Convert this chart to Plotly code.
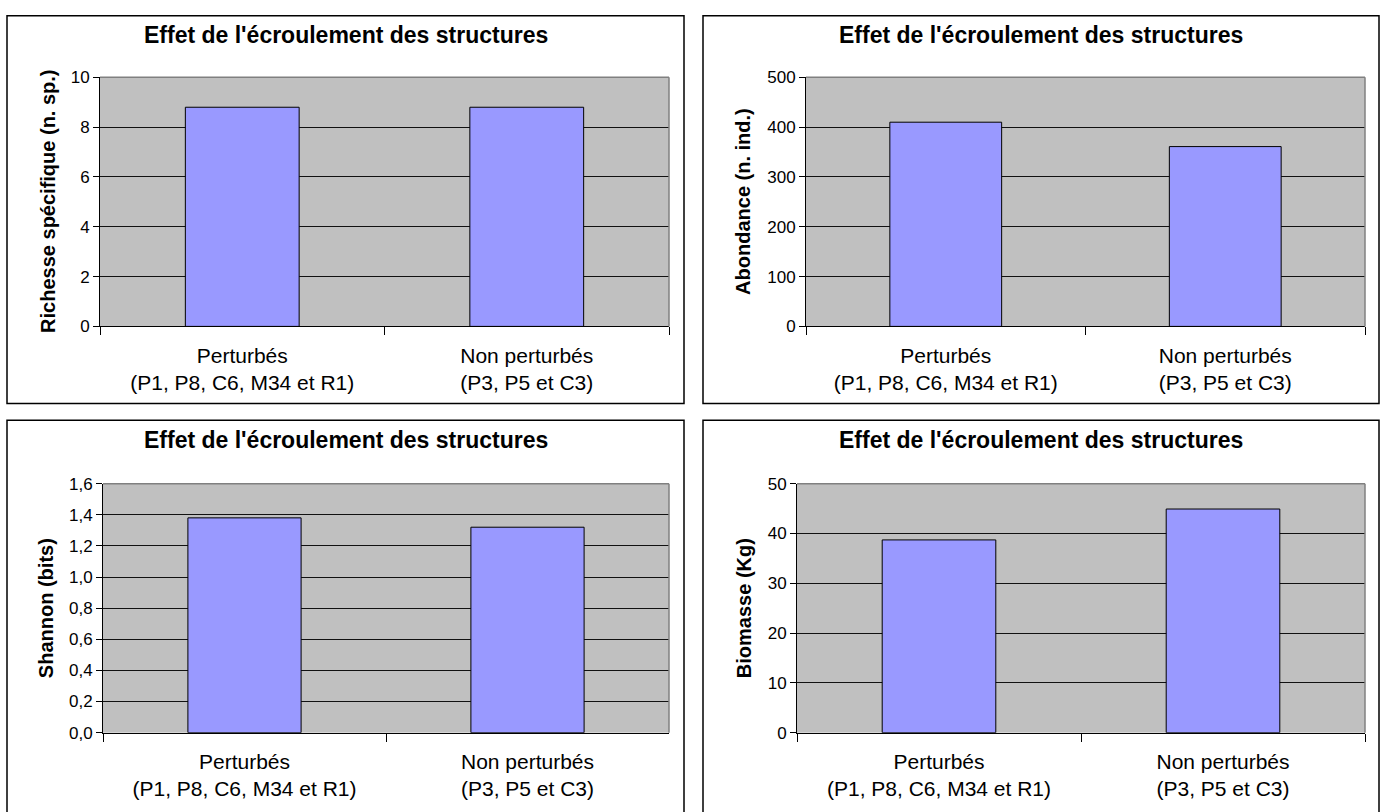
import plotly.graph_objects as go
from plotly.subplots import make_subplots

W, H = 1386, 812

# ---- data -----------------------------------------------------------------
categories = ["Perturbés<br>(P1, P8, C6, M34 et R1)", "Non perturbés<br>(P3, P5 et C3)"]

richesse = [8.8, 8.8]
abondance = [410, 361]
shannon = [1.38, 1.32]
biomasse = [38.7, 44.9]

chart_title = "Effet de l'écroulement des structures"
y_titles = ["Richesse spécifique (n. sp.)", "Abondance (n. ind.)", "Shannon (bits)", "Biomasse (Kg)"]
y_max = [10, 500, 1.6, 50]
y_step = [2, 100, 0.2, 10]
y_format = ["d", "d", ".1f", "d"]

series = [richesse, abondance, shannon, biomasse]

# ---- layout (pixel boxes) --------------------------------------------------
# frame: x0, y0, x1, y1 ; plot: x0, y0, x1, y1 ; y-title x ; title y
panels = [
    dict(frame=(7, 7, 684, 404), plot=(100, 70, 669, 325), ytx=48, ty=27),
    dict(frame=(703, 7, 1379, 404), plot=(806, 70, 1365, 325), ytx=743, ty=27),
    dict(frame=(7, 421, 684, 840), plot=(103, 486, 669, 741), ytx=46, ty=441),
    dict(frame=(703, 421, 1379, 840), plot=(797, 486, 1365, 741), ytx=744, ty=441),
]


def fx(px):
    return px / W


def fy(py):
    return 1 - py / H


FONT = "Arial, 'Liberation Sans', sans-serif"
BAR_COLOR = "#9999FF"
PLOT_BG = "#C0C0C0"

fig = make_subplots(rows=2, cols=2)

shapes = []
annotations = []

for i, (vals, p) in enumerate(zip(series, panels)):
    row, col = i // 2 + 1, i % 2 + 1
    fig.add_trace(
        go.Bar(
            x=categories,
            y=vals,
            marker=dict(color=BAR_COLOR, line=dict(color="black", width=1)),
            showlegend=False,
            hoverinfo="skip",
        ),
        row=row,
        col=col,
    )
    n = "" if i == 0 else str(i + 1)
    px0, py0, px1, py1 = p["plot"]
    fig.layout["xaxis" + n].update(
        domain=[fx(px0), fx(px1)],
        type="category",
        range=[-0.5, 1.5],
        tickson="boundaries",
        ticks="outside",
        ticklen=8,
        tickcolor="black",
        tickwidth=1,
        showline=True,
        linecolor="black",
        linewidth=1,
        showgrid=False,
        zeroline=False,
        ticklabelstandoff=10,
        tickfont=dict(family=FONT, size=21, color="black"),
        fixedrange=True,
    )
    fig.layout["yaxis" + n].update(
        domain=[fy(py1), fy(py0)],
        range=[0, y_max[i]],
        dtick=y_step[i],
        tick0=0,
        tickformat=y_format[i],
        ticks="outside",
        ticklen=6,
        tickcolor="black",
        tickwidth=1,
        showline=True,
        linecolor="black",
        linewidth=1,
        showgrid=True,
        gridcolor="#111111",
        gridwidth=1.2,
        zeroline=False,
        tickfont=dict(family=FONT, size=17, color="black"),
        fixedrange=True,
    )

    # grey top and right edges of the plot area
    xd, yd = "x" + n + " domain", "y" + n + " domain"
    shapes.append(dict(type="line", xref=xd, yref=yd, x0=0, x1=1, y0=1, y1=1,
                       line=dict(color="#808080", width=1.5), layer="above"))
    shapes.append(dict(type="line", xref=xd, yref=yd, x0=1, x1=1, y0=0, y1=1,
                       line=dict(color="#808080", width=1.5), layer="above"))

    # panel frame
    fx0, fy0, fx1, fy1 = p["frame"]
    shapes.append(dict(type="rect", xref="paper", yref="paper",
                       x0=fx(fx0), x1=fx(fx1), y0=fy(fy1), y1=fy(fy0),
                       line=dict(color="black", width=1.5), fillcolor="rgba(0,0,0,0)",
                       layer="below"))

    # panel title
    annotations.append(dict(
        text="<b>" + chart_title + "</b>", xref="paper", yref="paper",
        x=fx((fx0 + fx1) / 2), y=fy(p["ty"]), xanchor="center", yanchor="middle",
        showarrow=False, font=dict(family=FONT, size=23, color="black"),
    ))
    # y-axis title
    annotations.append(dict(
        text="<b>" + y_titles[i] + "</b>", xref="paper", yref="paper",
        x=fx(p["ytx"]), y=fy((py0 + py1) / 2), xanchor="center", yanchor="middle",
        textangle=-90, showarrow=False, font=dict(family=FONT, size=20, color="black"),
    ))

fig.update_layout(
    width=W,
    height=H,
    autosize=False,
    margin=dict(l=0, r=0, t=0, b=0),
    paper_bgcolor="white",
    plot_bgcolor=PLOT_BG,
    bargap=0.6,
    separators=", ",
    shapes=shapes,
    annotations=annotations,
    font=dict(family=FONT, color="black"),
)

fig.write_html(
    "out.html",
    include_plotlyjs=True,
    config={"displayModeBar": False},
    post_script="document.body.style.margin='0';document.body.style.overflow='hidden';",
)
